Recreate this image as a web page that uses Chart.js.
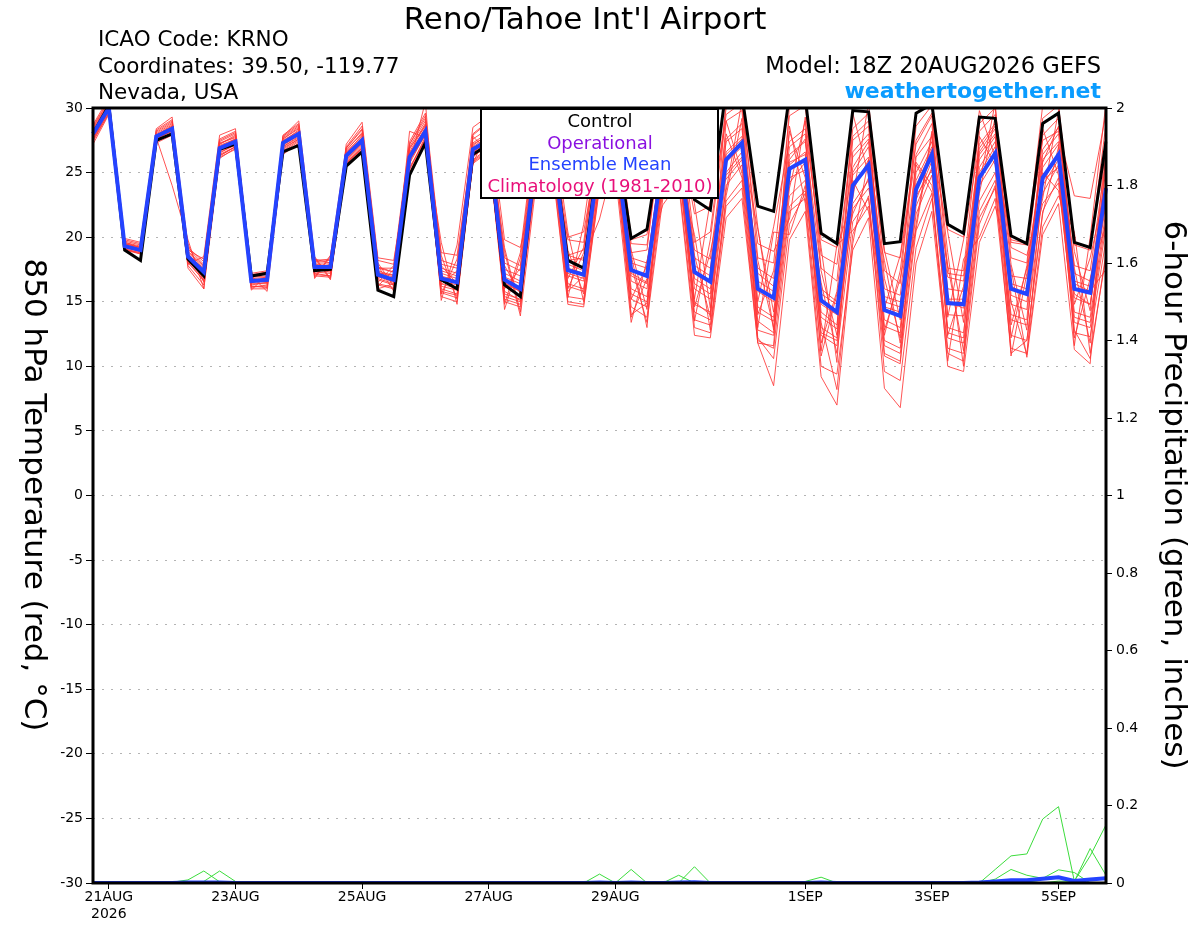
<!DOCTYPE html>
<html>
<head>
<meta charset="utf-8">
<title>Reno/Tahoe Int'l Airport - GEFS 850 hPa temperature</title>
<script src="https://cdn.jsdelivr.net/npm/chart.js@4.4.1/dist/chart.umd.min.js"></script>
<style>
  html, body { margin: 0; padding: 0; background: #fff; }
  canvas { display: block; }
</style>
</head>
<body>
<canvas id="gefsChart" width="1200" height="927"></canvas>
<script>
// 6-hourly steps, 18Z 20AUG2026 run out to 384 h (65 steps)
const forecastHours = [];
for (let h = 0; h <= 384; h += 6) forecastHours.push(h);

// date ticks (step index) and their labels
const xTickIdx = [1, 9, 17, 25, 33, 45, 53, 61];
const xTickLabels = [["21AUG", "2026"], "23AUG", "25AUG", "27AUG", "29AUG", "1SEP", "3SEP", "5SEP"];

// 850 hPa temperature, deg C
const tempMean = [
  28.0, 30.0, 19.3, 19.0, 27.8, 28.4, 18.5, 17.3,
  26.9, 27.4, 16.6, 16.7, 27.3, 28.0, 17.7, 17.7,
  26.3, 27.5, 17.1, 16.7, 26.2, 28.2, 16.8, 16.5,
  26.8, 27.5, 16.7, 16.0, 26.5, 27.5, 17.45, 17.1,
  26.5, 27.3, 17.45, 17.0, 26.0, 27.0, 17.3, 16.55,
  26.0, 27.3, 16.0, 15.3, 25.3, 26.0, 15.1, 14.2,
  24.0, 25.6, 14.35, 13.9, 23.7, 26.4, 14.9, 14.8,
  24.6, 26.5, 16.0, 15.6, 24.6, 26.4, 16.0, 15.7,
  23.8
];
const tempControl = [
  28.0, 30.2, 19.0, 18.2, 27.5, 28.0, 18.3, 17.0,
  26.8, 27.2, 17.0, 17.2, 26.6, 27.1, 17.4, 17.5,
  25.5, 26.6, 15.9, 15.4, 24.8, 27.3, 16.7, 16.0,
  26.4, 27.2, 16.3, 15.4, 26.5, 27.5, 18.2, 17.6,
  27.0, 28.0, 19.9, 20.6, 28.5, 29.5, 22.9, 22.1,
  31.5, 31.0, 22.4, 22.0, 31.0, 30.8, 20.3, 19.5,
  29.8, 29.7, 19.5, 19.65, 29.6, 30.3, 21.0, 20.3,
  29.3, 29.2, 20.1, 19.5, 28.8, 29.6, 19.6, 19.2,
  27.4
];

// ensemble members (temperature)
const member01 = [
  28.3, 30.3, 19.6, 19.2, 28.0, 28.8, 18.9, 17.8,
  27.2, 27.8, 16.9, 17.0, 27.6, 28.5, 18.1, 18.2,
  26.8, 28.0, 16.2, 17.5, 27.0, 29.0, 17.9, 17.6,
  27.6, 28.4, 18.0, 17.4, 27.8, 28.6, 19.0, 15.6,
  28.0, 28.8, 19.5, 19.4, 28.5, 29.4, 13.5, 19.8,
  29.5, 30.4, 19.5, 18.9, 21.4, 29.3, 18.6, 17.9,
  27.8, 29.0, 12.4, 17.4, 27.5, 29.6, 18.8, 10.0,
  28.2, 29.5, 19.2, 18.6, 23.0, 29.8, 18.9, 14.3,
  27.5
];
const member02 = [
  27.6, 29.7, 19.1, 18.8, 27.5, 28.1, 18.0, 16.7,
  26.4, 27.0, 16.2, 16.2, 26.9, 27.6, 17.2, 17.0,
  25.8, 27.0, 16.4, 16.1, 28.2, 27.7, 15.6, 18.3,
  25.9, 26.8, 15.0, 14.6, 25.0, 29.2, 20.4, 15.0,
  24.6, 25.8, 14.6, 13.8, 23.6, 25.0, 20.2, 12.8,
  23.2, 29.2, 12.0, 11.4, 22.0, 23.0, 11.2, 19.4,
  20.5, 22.4, 10.8, 10.2, 25.6, 23.5, 11.4, 11.0,
  21.5, 23.8, 12.4, 12.0, 21.8, 27.0, 12.6, 12.3,
  19.8
];
const member03 = [
  28.1, 30.1, 19.4, 19.1, 27.9, 28.5, 18.6, 17.4,
  27.0, 27.5, 16.7, 16.8, 27.2, 28.1, 17.8, 17.6,
  26.4, 27.6, 17.3, 16.9, 26.5, 28.4, 17.2, 16.8,
  27.0, 27.8, 16.9, 16.4, 26.8, 27.9, 17.9, 17.4,
  27.1, 27.6, 17.2, 16.5, 25.6, 26.8, 16.4, 15.6,
  25.8, 27.0, 20.6, 14.2, 24.6, 25.2, 13.8, 12.9,
  29.6, 24.8, 13.1, 12.6, 22.9, 25.9, 14.0, 13.9,
  24.1, 30.4, 15.5, 15.0, 24.0, 26.0, 15.3, 14.8,
  23.0
];
const member04 = [
  28.6, 30.6, 19.8, 19.5, 28.3, 29.1, 19.2, 18.1,
  27.6, 28.2, 17.1, 17.3, 27.9, 28.8, 16.8, 18.5,
  27.0, 28.6, 18.2, 17.9, 27.4, 29.6, 18.6, 15.2,
  28.0, 29.0, 14.4, 18.4, 28.4, 26.2, 19.8, 19.6,
  28.8, 29.5, 18.6, 13.0, 27.6, 28.5, 19.0, 18.3,
  28.0, 24.6, 17.6, 16.8, 27.0, 28.0, 11.8, 15.8,
  26.2, 27.6, 16.0, 15.5, 25.8, 24.0, 16.9, 16.6,
  26.6, 28.4, 10.8, 17.2, 26.8, 28.5, 17.8, 17.4,
  26.0
];
const member05 = [
  27.8, 29.8, 19.2, 18.9, 27.6, 28.2, 18.3, 17.0,
  26.6, 27.1, 16.4, 16.4, 27.0, 27.7, 17.5, 17.3,
  26.0, 27.2, 16.8, 16.4, 25.9, 27.9, 16.2, 15.9,
  26.3, 27.0, 15.8, 15.1, 25.7, 26.7, 16.4, 16.0,
  25.4, 26.4, 16.0, 15.4, 24.6, 25.9, 15.2, 22.8,
  24.5, 26.0, 14.2, 13.5, 23.8, 29.0, 13.0, 12.2,
  22.2, 23.8, 18.2, 11.8, 21.8, 24.8, 13.0, 12.6,
  22.8, 25.0, 14.0, 13.6, 28.4, 24.8, 14.2, 13.8,
  22.0
];
const member06 = [
  27.2, 29.5, 19.0, 18.8, 27.4, 28.0, 17.6, 16.0,
  26.1, 26.9, 17.0, 15.8, 26.4, 27.3, 18.4, 16.7,
  25.6, 26.7, 16.3, 16.0, 25.0, 27.5, 19.6, 14.8,
  27.8, 26.6, 18.9, 13.9, 24.2, 25.6, 14.8, 14.6,
  23.8, 25.0, 13.4, 18.2, 22.5, 24.2, 12.4, 12.2,
  21.5, 23.0, 11.8, 8.5, 19.8, 22.0, 9.2, 7.0,
  19.5, 26.0, 11.0, 10.4, 20.5, 23.4, 10.0, 9.6,
  19.6, 22.4, 17.6, 10.7, 20.2, 22.6, 11.3, 10.2,
  27.0
];
const member07 = [
  28.4, 30.4, 19.5, 19.2, 28.1, 28.9, 18.7, 17.5,
  27.4, 28.0, 16.8, 16.9, 27.7, 28.6, 17.9, 17.8,
  26.9, 28.3, 17.4, 17.0, 27.2, 29.4, 17.0, 16.6,
  25.6, 28.8, 16.5, 15.8, 28.0, 29.0, 17.0, 16.6,
  28.3, 29.2, 17.0, 16.4, 28.0, 29.2, 16.8, 16.0,
  23.6, 30.5, 15.8, 15.0, 28.2, 24.6, 14.8, 14.0,
  27.5, 28.6, 14.5, 18.6, 27.2, 29.4, 15.0, 14.5,
  23.4, 29.3, 16.2, 15.5, 27.9, 29.2, 16.4, 15.8,
  17.5
];
const member08 = [
  27.5, 29.6, 19.1, 18.7, 27.3, 27.9, 19.5, 16.5,
  26.2, 26.8, 16.0, 16.0, 26.6, 27.4, 17.0, 16.9,
  25.7, 26.8, 16.5, 17.8, 25.3, 27.6, 15.4, 15.0,
  25.8, 26.7, 14.8, 18.8, 29.0, 25.9, 15.0, 14.8,
  24.0, 25.4, 17.8, 13.4, 23.0, 24.6, 13.0, 12.6,
  22.4, 23.8, 11.8, 11.6, 28.6, 22.6, 10.0, 9.4,
  19.0, 21.5, 8.3, 6.8, 18.0, 22.0, 10.4, 18.3,
  20.0, 23.0, 11.4, 11.0, 20.8, 23.2, 20.4, 11.0,
  18.5
];
const member09 = [
  28.0, 30.0, 19.3, 18.9, 27.7, 28.3, 18.4, 17.2,
  26.8, 27.3, 16.5, 16.6, 27.4, 28.0, 17.6, 17.8,
  26.2, 27.4, 17.0, 16.6, 26.0, 28.0, 16.6, 16.3,
  26.6, 27.4, 16.4, 15.8, 26.2, 27.2, 17.6, 17.2,
  26.8, 27.8, 18.0, 17.6, 26.8, 27.6, 17.8, 17.0,
  26.6, 27.8, 16.6, 15.8, 25.6, 26.6, 15.6, 14.8,
  24.4, 22.0, 14.6, 14.2, 24.0, 26.8, 15.2, 15.2,
  25.0, 27.0, 16.4, 16.0, 25.0, 23.6, 16.6, 16.2,
  24.4
];
const member10 = [
  28.2, 30.2, 19.4, 19.0, 27.9, 28.6, 18.8, 17.7,
  27.1, 27.6, 16.6, 16.5, 27.1, 27.9, 17.4, 17.4,
  26.1, 27.3, 17.6, 17.3, 26.8, 28.8, 17.6, 17.2,
  27.3, 28.1, 17.5, 17.0, 27.5, 28.2, 18.6, 18.2,
  27.6, 28.0, 13.8, 16.8, 25.0, 26.0, 15.0, 14.0,
  24.0, 25.6, 13.5, 12.6, 23.2, 24.4, 12.6, 12.0,
  23.6, 26.0, 15.4, 15.0, 20.6, 28.0, 17.2, 17.0,
  26.9, 28.6, 17.9, 12.8, 26.0, 27.4, 15.6, 14.8,
  22.6
];
const member11 = [
  27.9, 29.9, 19.6, 19.3, 27.8, 28.4, 19.0, 18.3,
  27.3, 27.7, 15.9, 17.1, 27.5, 28.2, 18.2, 18.3,
  26.6, 27.8, 18.0, 16.2, 26.9, 28.6, 18.8, 18.6,
  27.2, 27.9, 19.2, 14.2, 27.0, 27.8, 20.0, 20.4,
  27.4, 28.2, 19.8, 20.2, 27.8, 28.6, 21.8, 22.4,
  29.0, 29.8, 15.0, 20.8, 27.4, 28.4, 19.2, 10.3,
  26.6, 28.0, 18.8, 18.4, 26.4, 28.8, 13.8, 19.8,
  27.2, 28.8, 19.6, 19.4, 27.5, 28.2, 23.2, 23.0,
  29.6
];
const member12 = [
  27.4, 29.6, 19.2, 18.9, 27.5, 28.0, 17.8, 16.3,
  26.3, 27.0, 16.1, 16.3, 26.7, 27.5, 16.9, 18.6,
  25.7, 26.9, 17.8, 15.8, 25.2, 27.8, 15.8, 15.5,
  26.0, 26.9, 15.4, 15.0, 25.2, 26.5, 16.0, 18.8,
  24.8, 26.0, 15.2, 14.6, 24.0, 25.4, 14.2, 13.6,
  29.0, 25.0, 12.8, 12.4, 22.4, 23.6, 16.5, 11.0,
  21.2, 23.0, 11.6, 11.0, 21.0, 28.2, 12.2, 11.8,
  22.0, 24.4, 13.2, 17.6, 22.6, 24.2, 13.4, 13.0,
  20.8
];
const member13 = [
  28.1, 30.0, 19.3, 19.0, 27.8, 28.6, 18.5, 17.3,
  26.9, 27.4, 16.7, 16.7, 27.3, 28.0, 17.7, 17.7,
  26.5, 27.7, 17.0, 16.5, 26.3, 28.3, 16.4, 16.0,
  26.9, 27.6, 16.2, 15.4, 26.6, 27.6, 17.2, 16.8,
  26.2, 27.2, 16.6, 16.0, 26.2, 27.3, 16.0, 15.2,
  26.4, 27.6, 14.6, 13.8, 25.8, 26.4, 14.2, 13.2,
  24.8, 26.2, 13.6, 13.0, 24.4, 27.0, 20.4, 13.4,
  25.4, 27.4, 14.8, 14.4, 25.4, 27.2, 14.8, 18.4,
  24.0
];
const member14 = [
  28.7, 30.8, 19.9, 19.6, 28.4, 29.3, 17.9, 18.5,
  27.9, 28.4, 17.2, 17.4, 27.8, 29.0, 18.5, 16.8,
  27.2, 28.9, 18.4, 18.2, 25.6, 30.5, 15.1, 19.4,
  28.5, 29.4, 19.8, 19.2, 24.6, 29.8, 15.3, 21.0,
  29.6, 30.4, 20.0, 20.5, 29.8, 30.6, 22.6, 14.5,
  30.8, 31.2, 20.8, 12.8, 30.2, 30.6, 19.8, 19.2,
  23.0, 30.4, 19.0, 13.6, 29.6, 30.8, 20.6, 20.0,
  29.8, 26.2, 19.8, 19.5, 30.2, 30.6, 11.6, 20.0,
  30.4
];
const member15 = [
  27.7, 29.9, 19.5, 19.2, 27.7, 24.0, 19.8, 16.0,
  27.2, 27.9, 16.9, 17.2, 27.6, 28.4, 18.0, 18.0,
  26.7, 28.1, 17.7, 17.3, 26.6, 28.7, 17.4, 17.0,
  26.5, 27.7, 17.2, 16.6, 25.8, 27.0, 18.2, 18.4,
  21.4, 26.2, 18.4, 18.0, 26.4, 27.8, 18.4, 17.6,
  27.4, 28.4, 17.2, 16.2, 26.4, 27.4, 16.0, 15.0,
  25.0, 27.0, 15.0, 14.6, 25.0, 27.4, 16.0, 15.8,
  26.0, 27.8, 17.0, 16.8, 26.4, 28.0, 17.2, 16.6,
  25.2
];
const member16 = [
  27.9, 30.0, 19.2, 19.0, 27.6, 28.3, 18.2, 16.8,
  26.5, 27.2, 16.3, 16.5, 27.0, 27.8, 17.3, 17.2,
  25.9, 27.1, 16.7, 16.3, 25.7, 28.0, 16.0, 15.6,
  26.2, 27.2, 15.6, 15.2, 25.5, 26.8, 16.2, 15.8,
  25.0, 26.6, 15.6, 15.0, 24.8, 26.4, 14.8, 14.2,
  24.8, 26.2, 13.0, 20.4, 20.2, 24.0, 12.4, 11.6,
  22.6, 24.4, 12.0, 11.4, 22.4, 25.4, 12.6, 12.2,
  27.8, 25.6, 13.6, 13.2, 23.4, 25.6, 13.8, 13.4,
  21.4
];
const member17 = [
  28.2, 30.1, 19.5, 19.1, 27.9, 28.7, 18.6, 17.6,
  27.0, 27.6, 16.8, 16.6, 27.4, 28.3, 17.6, 17.9,
  26.5, 27.9, 17.2, 17.1, 26.4, 28.5, 17.8, 16.4,
  27.1, 28.0, 16.0, 17.6, 26.9, 28.0, 16.8, 19.2,
  27.9, 28.6, 15.2, 17.8, 26.9, 28.2, 18.6, 13.8,
  27.6, 28.8, 14.0, 17.4, 26.0, 27.6, 17.4, 12.4,
  25.4, 27.4, 16.8, 12.2, 26.2, 27.8, 12.4, 16.2,
  26.4, 28.0, 12.2, 17.8, 25.8, 28.6, 17.6, 11.8,
  26.6
];
const member18 = [
  27.8, 29.9, 19.2, 19.0, 27.7, 28.2, 18.4, 17.1,
  26.7, 27.3, 16.5, 16.9, 27.2, 27.9, 17.5, 17.5,
  26.2, 27.3, 16.9, 16.8, 26.0, 28.1, 16.3, 17.4,
  26.5, 27.3, 17.8, 15.6, 26.0, 27.0, 15.8, 17.0,
  26.0, 26.9, 19.0, 14.4, 25.2, 26.2, 14.6, 18.8,
  25.0, 26.6, 18.2, 13.0, 24.2, 25.8, 10.8, 15.6,
  21.8, 24.6, 12.8, 16.8, 23.2, 25.2, 17.8, 11.2,
  24.0, 26.0, 15.0, 10.9, 24.4, 25.4, 12.2, 16.8,
  21.0
];
const member19 = [
  28.5, 30.5, 19.7, 19.4, 28.2, 29.0, 19.1, 17.9,
  27.5, 28.1, 17.0, 17.2, 27.8, 28.7, 18.3, 18.0,
  26.9, 28.4, 17.6, 17.6, 27.2, 29.2, 18.2, 17.8,
  27.9, 28.9, 18.4, 17.8, 28.2, 29.0, 18.6, 19.0,
  28.6, 29.6, 18.8, 19.0, 29.0, 30.0, 19.6, 20.4,
  30.0, 30.8, 18.4, 18.0, 29.4, 30.2, 17.6, 16.6,
  28.4, 29.6, 17.4, 16.4, 28.6, 30.2, 17.6, 17.4,
  28.8, 30.0, 18.4, 18.0, 29.2, 30.2, 19.4, 19.0,
  28.8
];
const member20 = [
  27.6, 29.8, 19.0, 18.7, 27.4, 28.1, 18.1, 16.6,
  26.3, 27.0, 16.2, 16.1, 26.8, 27.6, 17.1, 17.0,
  25.8, 26.9, 16.0, 16.4, 25.4, 27.6, 15.7, 15.3,
  25.7, 26.6, 15.2, 14.8, 24.9, 26.4, 15.4, 15.2,
  24.4, 25.8, 14.0, 14.9, 24.2, 25.8, 13.6, 13.2,
  22.8, 24.4, 12.2, 10.6, 21.0, 23.4, 13.4, 8.2,
  20.2, 23.2, 9.6, 8.9, 19.2, 23.0, 11.0, 10.4,
  21.0, 24.0, 11.0, 12.0, 22.0, 24.6, 12.8, 10.6,
  18.8
];
const tempMembers = [member01, member02, member03, member04, member05, member06, member07, member08, member09, member10,
                     member11, member12, member13, member14, member15, member16, member17, member18, member19, member20];

// 6-hour precipitation, inches
const precipMean = [
  0, 0, 0, 0, 0, 0, 0.001, 0.001,
  0.001, 0, 0, 0, 0, 0, 0, 0,
  0, 0, 0, 0, 0, 0, 0, 0,
  0, 0, 0, 0, 0, 0, 0, 0,
  0.001, 0, 0.001, 0, 0, 0.001, 0.002, 0,
  0, 0, 0, 0, 0, 0, 0.001, 0,
  0, 0, 0, 0, 0, 0, 0, 0,
  0.001, 0.004, 0.007, 0.007, 0.011, 0.015, 0.005, 0.009,
  0.012
];
const precip01 = [
  0, 0, 0, 0, 0, 0.002, 0.008, 0.031,
  0.003, 0, 0, 0, 0, 0, 0, 0,
  0, 0, 0, 0, 0, 0, 0, 0,
  0, 0, 0, 0, 0, 0, 0, 0,
  0, 0, 0, 0, 0, 0, 0, 0,
  0, 0, 0, 0, 0, 0.004, 0.015, 0,
  0, 0, 0, 0, 0, 0, 0, 0,
  0, 0, 0, 0, 0, 0, 0, 0,
  0
];
const precip02 = [
  0, 0, 0, 0, 0, 0, 0, 0.004,
  0.031, 0.004, 0, 0, 0, 0.002, 0, 0,
  0, 0.004, 0, 0, 0, 0, 0, 0,
  0, 0, 0, 0, 0, 0, 0, 0,
  0, 0, 0, 0, 0, 0, 0, 0,
  0, 0, 0, 0, 0, 0, 0, 0,
  0, 0, 0, 0, 0, 0, 0, 0,
  0, 0, 0, 0, 0, 0, 0, 0,
  0
];
const precip03 = [
  0, 0, 0, 0, 0, 0, 0, 0,
  0, 0, 0, 0, 0, 0, 0, 0,
  0, 0, 0, 0, 0, 0, 0, 0,
  0, 0, 0, 0, 0, 0, 0, 0,
  0.023, 0, 0, 0, 0, 0.020, 0, 0,
  0, 0, 0, 0, 0, 0, 0, 0,
  0, 0, 0, 0, 0, 0, 0, 0,
  0, 0, 0, 0, 0, 0, 0, 0,
  0
];
const precip04 = [
  0, 0, 0, 0, 0, 0, 0, 0,
  0, 0, 0, 0, 0, 0, 0, 0,
  0, 0, 0, 0, 0, 0, 0, 0,
  0, 0, 0, 0, 0, 0, 0, 0,
  0, 0, 0.035, 0, 0, 0, 0.042, 0,
  0, 0, 0, 0, 0, 0, 0, 0,
  0, 0, 0, 0, 0, 0, 0, 0,
  0, 0, 0, 0, 0, 0, 0, 0,
  0
];
const precip05 = [
  0, 0, 0, 0, 0, 0, 0, 0,
  0, 0, 0, 0, 0, 0, 0, 0,
  0, 0, 0, 0, 0, 0, 0, 0,
  0, 0, 0, 0, 0, 0, 0, 0,
  0, 0, 0, 0, 0, 0, 0, 0,
  0, 0, 0, 0, 0, 0, 0, 0,
  0, 0, 0, 0, 0, 0, 0, 0,
  0, 0.035, 0.070, 0.075, 0.165, 0.197, 0.005, 0.070,
  0.150
];
const precip06 = [
  0, 0, 0, 0, 0, 0, 0, 0,
  0, 0, 0, 0, 0, 0, 0, 0,
  0, 0, 0, 0, 0, 0, 0, 0,
  0, 0, 0, 0, 0, 0, 0, 0,
  0, 0, 0, 0, 0, 0, 0, 0,
  0, 0, 0, 0, 0, 0, 0, 0,
  0, 0, 0, 0, 0, 0, 0, 0,
  0, 0.010, 0.035, 0.020, 0.012, 0.034, 0.027, 0,
  0
];
const precip07 = [
  0, 0, 0, 0, 0, 0, 0, 0,
  0, 0, 0, 0, 0, 0, 0, 0,
  0, 0, 0, 0, 0, 0, 0, 0,
  0, 0, 0, 0, 0, 0, 0, 0,
  0, 0, 0, 0, 0, 0, 0, 0,
  0, 0, 0, 0, 0, 0, 0, 0,
  0, 0, 0, 0, 0, 0, 0, 0,
  0, 0, 0, 0.005, 0, 0.005, 0.004, 0.089,
  0.020
];
const precipMembers = [precip01, precip02, precip03, precip04, precip05, precip06, precip07];

// ---- styling ----
const FONT = "DejaVu Sans";
const RED = "rgba(255, 55, 55, 0.85)";
const GREEN = "#3cdc3c";
const BLUE = "#2443ff";

Chart.defaults.font.family = FONT;
Chart.defaults.color = "#000";

function lineSet(data, color, width, axis) {
    return {
        data: data,
        borderColor: color,
        borderWidth: width,
        pointRadius: 0,
        tension: 0,
        fill: false,
        yAxisID: axis
    };
}

// first dataset is painted last (on top)
const datasets = [
    lineSet(tempMean, BLUE, 4, "y"),
    lineSet(tempControl, "#000", 3, "y"),
    lineSet(precipMean, BLUE, 4, "y1")
];
precipMembers.forEach(p => datasets.push(lineSet(p, GREEN, 1, "y1")));
tempMembers.forEach(m => datasets.push(lineSet(m, RED, 1, "y")));

// header, legend box, frame and rotated axis titles
const decorPlugin = {
    id: "decor",
    afterDatasetsDraw(chart) {
        const { ctx, chartArea: a } = chart;
        ctx.save();
        ctx.strokeStyle = "#000";
        ctx.lineWidth = 3;
        ctx.strokeRect(a.left, a.top, a.right - a.left, a.bottom - a.top);
        ctx.restore();
    },
    afterDraw(chart) {
        const ctx = chart.ctx;
        ctx.save();
        ctx.fillStyle = "#000";
        ctx.textBaseline = "alphabetic";

        ctx.font = `31px "${FONT}"`;
        ctx.textAlign = "center";
        ctx.fillText("Reno/Tahoe Int'l Airport", 585, 29);

        ctx.font = `21.5px "${FONT}"`;
        ctx.textAlign = "left";
        ctx.fillText("ICAO Code: KRNO", 98, 46);
        ctx.fillText("Coordinates: 39.50, -119.77", 98, 72.5);
        ctx.fillText("Nevada, USA", 98, 99);

        ctx.textAlign = "right";
        ctx.font = `22.6px "${FONT}"`;
        ctx.fillText("Model: 18Z 20AUG2026 GEFS", 1101, 72.5);
        ctx.font = `bold 22px "${FONT}"`;
        ctx.fillStyle = "#0a9cff";
        ctx.fillText("weathertogether.net", 1101, 98);

        // legend box
        ctx.fillStyle = "#fff";
        ctx.fillRect(481, 109, 237, 89);
        ctx.strokeStyle = "#000";
        ctx.lineWidth = 2;
        ctx.strokeRect(481, 109, 237, 89);
        ctx.font = `18px "${FONT}"`;
        ctx.textAlign = "center";
        const legendRows = [
            ["Control", "#000"],
            ["Operational", "#8a10e0"],
            ["Ensemble Mean", BLUE],
            ["Climatology (1981-2010)", "#e8107a"]
        ];
        legendRows.forEach((r, i) => {
            ctx.fillStyle = r[1];
            ctx.fillText(r[0], 600, 127 + i * 21.5);
        });

        // axis titles, both read top to bottom
        ctx.fillStyle = "#000";
        ctx.font = `31px "${FONT}"`;
        ctx.textBaseline = "middle";
        [[33, "850 hPa Temperature (red, \u00B0C)"], [1173, "6-hour Precipitation (green, inches)"]].forEach(t => {
            ctx.save();
            ctx.translate(t[0], 495);
            ctx.rotate(Math.PI / 2);
            ctx.fillText(t[1], 0, 0);
            ctx.restore();
        });
        ctx.restore();
    }
};

new Chart(document.getElementById("gefsChart").getContext("2d"), {
    type: "line",
    data: { labels: forecastHours, datasets: datasets },
    options: {
        responsive: false,
        animation: false,
        events: [],
        layout: { padding: { top: 108, left: 0, right: 0, bottom: 0 } },
        plugins: { legend: { display: false }, tooltip: { enabled: false }, title: { display: false } },
        scales: {
            x: {
                type: "category",
                grid: { drawOnChartArea: false, tickLength: 6, tickColor: "#000", color: "#000" },
                border: { display: false },
                ticks: {
                    autoSkip: false,
                    maxRotation: 0,
                    padding: 0,
                    color: "#000",
                    font: { size: 14 },
                    callback: (v, i) => xTickLabels[i]
                },
                afterBuildTicks: s => { s.ticks = xTickIdx.map(v => ({ value: v })); },
                afterFit: s => { s.height = 44; }
            },
            y: {
                position: "left",
                min: -30,
                max: 30,
                ticks: { stepSize: 5, padding: 3, color: "#000", font: { size: 14 } },
                grid: { color: "#b4b4b4", lineWidth: 1, tickLength: 7, tickColor: "#000" },
                border: { display: false, dash: [2, 7] },
                afterFit: s => { s.width = 93; }
            },
            y1: {
                position: "right",
                min: 0,
                max: 2,
                ticks: {
                    stepSize: 0.2,
                    padding: 4,
                    color: "#000",
                    font: { size: 14 },
                    callback: v => String(Math.round(v * 10) / 10)
                },
                grid: { drawOnChartArea: false, tickLength: 6, tickColor: "#000" },
                border: { display: false },
                afterFit: s => { s.width = 94; }
            }
        }
    },
    plugins: [decorPlugin]
});
</script>
</body>
</html>
